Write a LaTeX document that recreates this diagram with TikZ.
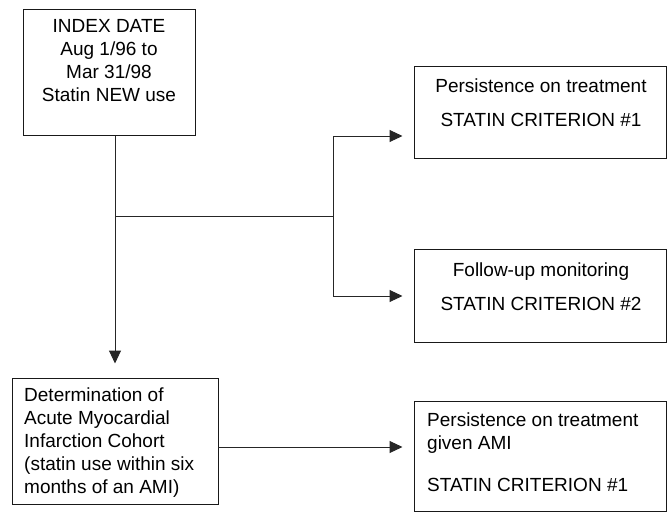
\documentclass[tikz,border=0pt]{standalone}
\usepackage{fontspec}
\setmainfont{Liberation Sans}
\usetikzlibrary{arrows.meta}
\tikzset{
  boxnode/.style={draw=black!90, line width=1pt, inner sep=0pt, anchor=center},
  txt/.style={inner sep=0pt, font=\fontsize{19pt}{22.8pt}\selectfont},
  conn/.style={draw=black!85, line width=1pt},
  arr/.style={conn, -{Triangle[length=13pt,width=12pt]}, shorten >=11pt}
}
\begin{document}
\begin{tikzpicture}[x=1pt,y=-1pt]
\useasboundingbox (0,0) rectangle (667,512);
% boxes
\node[boxnode, minimum width=172pt, minimum height=126pt] (b1) at (109,72) {};
\node[boxnode, minimum width=252pt, minimum height=92pt] (b2) at (540,112) {};
\node[boxnode, minimum width=252pt, minimum height=93pt] (b3) at (540,295.5) {};
\node[boxnode, minimum width=252pt, minimum height=110pt] (b4) at (540,456) {};
\node[boxnode, minimum width=206pt, minimum height=126pt] (b5) at (115,441) {};
% texts
\node[txt, anchor=north, align=center] (t1) at (109,19.5)
  {INDEX DATE\\Aug 1/96 to\\Mar 31/98\\Statin NEW use};
\node[txt, anchor=north, align=center] (t2) at (541,78.5)
  {Persistence on treatment\\[11.5pt]STATIN CRITERION \#1};
\node[txt, anchor=north, align=center] (t3) at (541,263)
  {Follow-up monitoring\\[11pt]STATIN CRITERION \#2};
\node[txt, anchor=north west, align=left] (t4) at (427,412.5)
  {Persistence on treatment\\given AMI\\[19pt]STATIN CRITERION \#1};
\node[txt, anchor=north west, align=left] (t5) at (24,388)
  {Determination of\\Acute Myocardial\\Infarction Cohort\\(statin use within six\\months of an AMI)};
% connectors
\coordinate (j) at (333,216);
\coordinate (ja) at (333,136);
\coordinate (jb) at (333,296);
\coordinate (a5) at (218,447);
\draw[arr, shorten >=14pt] (b1.south -| b5.north) -- (b5.north);
\draw[conn] (j -| b5.north) -- (j);
\draw[conn] (ja) -- (jb);
\draw[arr] (ja) -- (ja -| b2.west);
\draw[arr] (jb) -- (jb -| b3.west);
\draw[arr] (a5) -- (a5 -| b4.west);
\end{tikzpicture}
\end{document}
